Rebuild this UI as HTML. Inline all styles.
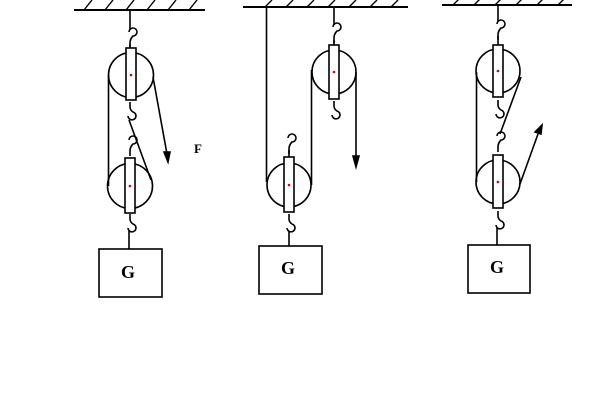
<!DOCTYPE html>
<html><head><meta charset="utf-8"><style>html,body{margin:0;padding:0;background:#fff}svg{display:block}</style></head>
<body>
<svg width="600" height="400" viewBox="0 0 600 400" xmlns="http://www.w3.org/2000/svg" fill="none" stroke="#000" stroke-width="1.6">
<defs>
<g id="hk"><path d="M-1,-8 A4,4 0 1 1 3,-4 Q0,-1 0,3 L0,8"/></g>
<g id="hkd"><path d="M0,-8 L0,-3 Q0,0 3,2 A4,4 0 1 1 -2,6"/></g>
</defs>
<!-- Diagram 1 -->
<line x1="74" y1="10" x2="205" y2="10" stroke-width="2"/>
<g stroke-width="1.4"><path d="M84,10 l8,-10 M105,10 l8,-10 M126,10 l8,-10 M147,10 l8,-10 M168,10 l8,-10 M189,10 l8,-10"/></g>
<line x1="130" y1="10" x2="130" y2="30"/>
<use href="#hk" x="130" y="40"/>
<line x1="130" y1="44" x2="130" y2="48"/>
<circle cx="131" cy="75" r="22.5"/>
<rect x="126" y="48" width="10" height="52" fill="#fff"/>
<circle cx="131" cy="75" r="1.3" fill="#d00" stroke="none"/>
<use href="#hkd" x="130" y="110"/>
<line x1="129" y1="120" x2="151" y2="180"/>
<use href="#hk" x="130" y="148"/>
<line x1="108.5" y1="75" x2="108.5" y2="186"/>
<circle cx="130" cy="186" r="22.5"/>
<rect x="125" y="158" width="10" height="55" fill="#fff"/>
<circle cx="130" cy="186" r="1.3" fill="#d00" stroke="none"/>
<line x1="153" y1="77" x2="167" y2="154"/>
<path d="M164,152 L170,152 L168,162 Z" fill="#000"/>
<text x="194" y="153" font-family="Liberation Serif,serif" font-weight="bold" font-size="13" fill="#000" stroke="none">F</text>
<use href="#hkd" x="130" y="222"/>
<line x1="129" y1="231" x2="129" y2="249"/>
<rect x="99" y="249" width="63" height="48"/>
<text x="128" y="278" text-anchor="middle" font-family="Liberation Serif,serif" font-weight="bold" font-size="18" fill="#000" stroke="none">G</text>

<!-- Diagram 2 -->
<line x1="243" y1="7" x2="408" y2="7" stroke-width="2"/>
<g stroke-width="1.4"><path d="M265,7 l7,-7 M286,7 l7,-7 M307,7 l7,-7 M328,7 l7,-7 M349,7 l7,-7 M370,7 l7,-7 M391,7 l7,-7"/></g>
<line x1="266.5" y1="7" x2="266.5" y2="182"/>
<line x1="334" y1="7" x2="334" y2="25"/>
<use href="#hk" x="334" y="35"/>
<line x1="334" y1="40" x2="334" y2="45"/>
<circle cx="334" cy="72" r="22"/>
<rect x="329" y="45" width="10" height="54" fill="#fff"/>
<circle cx="334" cy="72" r="1.3" fill="#d00" stroke="none"/>
<use href="#hkd" x="334" y="109"/>
<line x1="356" y1="72" x2="356" y2="158"/>
<path d="M353,156 L359,156 L356,167 Z" fill="#000"/>
<line x1="311.5" y1="70" x2="311.5" y2="185"/>
<use href="#hk" x="289" y="146"/>
<line x1="289" y1="150" x2="289" y2="157"/>
<circle cx="289" cy="185" r="22"/>
<rect x="284" y="157" width="10" height="55" fill="#fff"/>
<circle cx="289" cy="185" r="1.3" fill="#d00" stroke="none"/>
<use href="#hkd" x="289" y="222"/>
<line x1="289" y1="231" x2="289" y2="246"/>
<rect x="259" y="246" width="63" height="48"/>
<text x="288" y="274" text-anchor="middle" font-family="Liberation Serif,serif" font-weight="bold" font-size="18" fill="#000" stroke="none">G</text>

<!-- Diagram 3 -->
<line x1="442" y1="5" x2="572" y2="5" stroke-width="2"/>
<g stroke-width="1.4"><path d="M453,5 l6,-6 M474,5 l6,-6 M495,5 l6,-6 M516,5 l6,-6 M537,5 l6,-6 M558,5 l6,-6"/></g>
<line x1="498" y1="5" x2="498" y2="22"/>
<use href="#hk" x="498" y="32"/>
<line x1="498" y1="36" x2="498" y2="45"/>
<circle cx="498" cy="71" r="22"/>
<rect x="493" y="45" width="10" height="52" fill="#fff"/>
<circle cx="498" cy="71" r="1.3" fill="#d00" stroke="none"/>
<use href="#hkd" x="498" y="108"/>
<line x1="521" y1="77" x2="500" y2="134"/>
<use href="#hk" x="498" y="144"/>
<line x1="476.5" y1="72" x2="476.5" y2="182"/>
<circle cx="498" cy="182" r="22"/>
<rect x="493" y="155" width="10" height="53" fill="#fff"/>
<circle cx="498" cy="182" r="1.3" fill="#d00" stroke="none"/>
<line x1="520" y1="184" x2="538" y2="134"/>
<path d="M535,132 L541,134 L542,125 Z" fill="#000"/>
<use href="#hkd" x="498" y="219"/>
<line x1="497" y1="228" x2="497" y2="245"/>
<rect x="468" y="245" width="62" height="48"/>
<text x="497" y="273" text-anchor="middle" font-family="Liberation Serif,serif" font-weight="bold" font-size="18" fill="#000" stroke="none">G</text>
</svg>
</body></html>
